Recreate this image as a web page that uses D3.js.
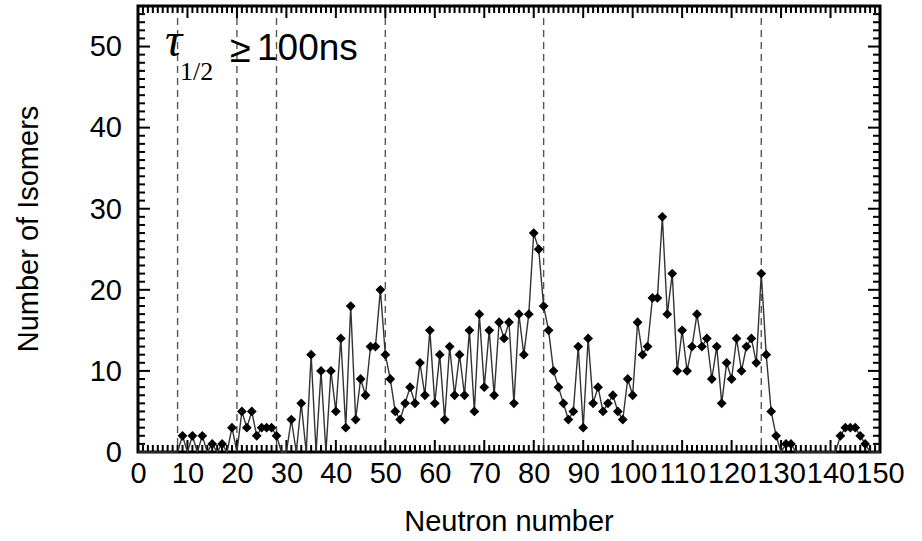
<!DOCTYPE html>
<html>
<head>
<meta charset="utf-8">
<script src="https://cdn.jsdelivr.net/npm/d3@7"></script>
<style>
    body { margin: 0; background: #fff; }
    text { font-family: "Liberation Sans", Arial, sans-serif; fill: #000; }
</style>
</head>
<body>
<div id="chart-area"></div>
<script>
// Number of isomers (t1/2 >= 100ns) for each neutron number N = 0..150
const neutronNumbers = d3.range(0, 151);
const isomerCounts = [
    0, 0, 0, 0, 0, 0, 0, 0, 0,              // 0-8
    2, 0, 2, 0, 2, 0, 1, 0, 1, 0, 3,        // 9-19
    0, 5, 3, 5, 2, 3, 3, 3, 2, 0,           // 20-29
    0, 4, 0, 6, 0, 12, 0, 10, 0, 10,        // 30-39
    5, 14, 3, 18, 4, 9, 7, 13, 13, 20,      // 40-49
    12, 9, 5, 4, 6, 8, 6, 11, 7, 15,        // 50-59
    6, 12, 4, 13, 7, 12, 7, 15, 5, 17,      // 60-69
    8, 15, 7, 16, 14, 16, 6, 17, 12, 17,    // 70-79
    27, 25, 18, 15, 10, 8, 6, 4, 5, 13,     // 80-89
    3, 14, 6, 8, 5, 6, 7, 5, 4, 9,          // 90-99
    7, 16, 12, 13, 19, 19, 29, 17, 22, 10,  // 100-109
    15, 10, 13, 17, 13, 14, 9, 13, 6, 11,   // 110-119
    9, 14, 10, 13, 14, 11, 22, 12, 5, 2,    // 120-129
    0, 1, 1, 0, 0, 0, 0, 0, 0, 0,           // 130-139
    0, 0, 2, 3, 3, 3, 2, 1, 0, 0, 0         // 140-150
];
const magicNumbers = [8, 20, 28, 50, 82, 126];
const xTickValues = [0, 10, 20, 30, 40, 50, 60, 70, 80, 90, 100, 110, 120, 130, 140, 150];
const yTickValues = [0, 10, 20, 30, 40, 50];
const xMinorTicks = d3.range(0, 151);
const yMinorTicks = d3.range(0, 56);

const data = neutronNumbers.map((n, i) => ({ n: n, count: isomerCounts[i] }));

const MARGIN = { LEFT: 138, RIGHT: 42, TOP: 6, BOTTOM: 89 };
const WIDTH = 922 - MARGIN.LEFT - MARGIN.RIGHT;
const HEIGHT = 541 - MARGIN.TOP - MARGIN.BOTTOM;

const svg = d3.select("#chart-area").append("svg")
    .attr("width", 922)
    .attr("height", 541)
    .append("g")
    .attr("transform", `translate(${MARGIN.LEFT}, ${MARGIN.TOP})`);

const x = d3.scaleLinear().domain([0, 150]).range([0, WIDTH]);
const y = d3.scaleLinear().domain([0, 55]).range([HEIGHT, 0]);

// frame (drawn first, ticks sit on top of it)
svg.append("rect")
    .attr("x", 0)
    .attr("y", 0)
    .attr("width", WIDTH)
    .attr("height", HEIGHT)
    .attr("fill", "none")
    .attr("stroke", "#000")
    .attr("stroke-width", 3);

// magic number guide lines
svg.selectAll(".magic")
    .data(magicNumbers)
    .join("line")
    .attr("class", "magic")
    .attr("x1", d => x(d))
    .attr("x2", d => x(d))
    .attr("y1", 0)
    .attr("y2", HEIGHT)
    .attr("stroke", "#555")
    .attr("stroke-width", 1.4)
    .attr("stroke-dasharray", "7,5");

// inward ticks, minor every 1 and major every 10, as rects so they are solid
const tickLen = v => (v % 10 === 0 ? 12 : 7);

svg.selectAll(".tb")
    .data(xMinorTicks)
    .join("rect")
    .attr("class", "tb")
    .attr("x", d => x(d) - 1)
    .attr("y", d => HEIGHT - tickLen(d))
    .attr("width", 2)
    .attr("height", d => tickLen(d))
    .attr("fill", "#000");

svg.selectAll(".tt")
    .data(xMinorTicks)
    .join("rect")
    .attr("class", "tt")
    .attr("x", d => x(d) - 1)
    .attr("y", 0)
    .attr("width", 2)
    .attr("height", d => tickLen(d))
    .attr("fill", "#000");

svg.selectAll(".tl")
    .data(yMinorTicks)
    .join("rect")
    .attr("class", "tl")
    .attr("x", 0)
    .attr("y", d => y(d) - 1)
    .attr("width", d => tickLen(d))
    .attr("height", 2)
    .attr("fill", "#000");

svg.selectAll(".tr")
    .data(yMinorTicks)
    .join("rect")
    .attr("class", "tr")
    .attr("x", d => WIDTH - tickLen(d))
    .attr("y", d => y(d) - 1)
    .attr("width", d => tickLen(d))
    .attr("height", 2)
    .attr("fill", "#000");

// axis labels
const xAxisGroup = svg.append("g")
    .attr("transform", `translate(0, ${HEIGHT})`)
    .call(d3.axisBottom(x).tickValues(xTickValues).tickSize(0).tickPadding(10));
const yAxisGroup = svg.append("g")
    .call(d3.axisLeft(y).tickValues(yTickValues).tickSize(0).tickPadding(16));

[xAxisGroup, yAxisGroup].forEach(g => {
    g.select(".domain").remove();
    g.selectAll("text")
        .attr("fill", "#000")
        .style("font-size", "29px")
        .style("font-family", "Liberation Sans, Arial, sans-serif");
});

// data line
const line = d3.line()
    .x(d => x(d.n))
    .y(d => y(d.count));

svg.append("path")
    .datum(data)
    .attr("d", line)
    .attr("fill", "none")
    .attr("stroke", "#333")
    .attr("stroke-width", 1.4);

// diamond markers (zeros sit under the axis)
svg.selectAll(".marker")
    .data(data.filter(d => d.count > 0))
    .join("path")
    .attr("class", "marker")
    .attr("d", d3.symbol().type(d3.symbolSquare).size(48))
    .attr("transform", d => `translate(${x(d.n)}, ${y(d.count)}) rotate(45)`)
    .attr("fill", "#000");

// annotation: tau_1/2 >= 100ns
const note = svg.append("g");
note.append("text")
    .attr("x", 27)
    .attr("y", 50)
    .style("font-family", "Liberation Serif, Times New Roman, serif")
    .style("font-style", "italic")
    .style("font-size", "48px")
    .text("τ");
note.append("text")
    .attr("x", 42)
    .attr("y", 74)
    .style("font-family", "Liberation Serif, Times New Roman, serif")
    .style("font-size", "26px")
    .text("1/2");
note.append("text")
    .attr("x", 92)
    .attr("y", 56)
    .style("font-size", "38px")
    .text("≥");
note.append("text")
    .attr("x", 119)
    .attr("y", 54)
    .style("font-size", "37px")
    .text("100ns");

// X Axis Label
svg.append("text")
    .attr("class", "x axis-label")
    .attr("x", WIDTH / 2)
    .attr("y", HEIGHT + 79)
    .attr("text-anchor", "middle")
    .style("font-size", "29px")
    .text("Neutron number");

// Y Axis Label
svg.append("text")
    .attr("class", "y axis-label")
    .attr("transform", "rotate(-90)")
    .attr("x", -HEIGHT / 2)
    .attr("y", -100)
    .attr("text-anchor", "middle")
    .style("font-size", "29px")
    .text("Number of Isomers");
</script>
</body>
</html>
